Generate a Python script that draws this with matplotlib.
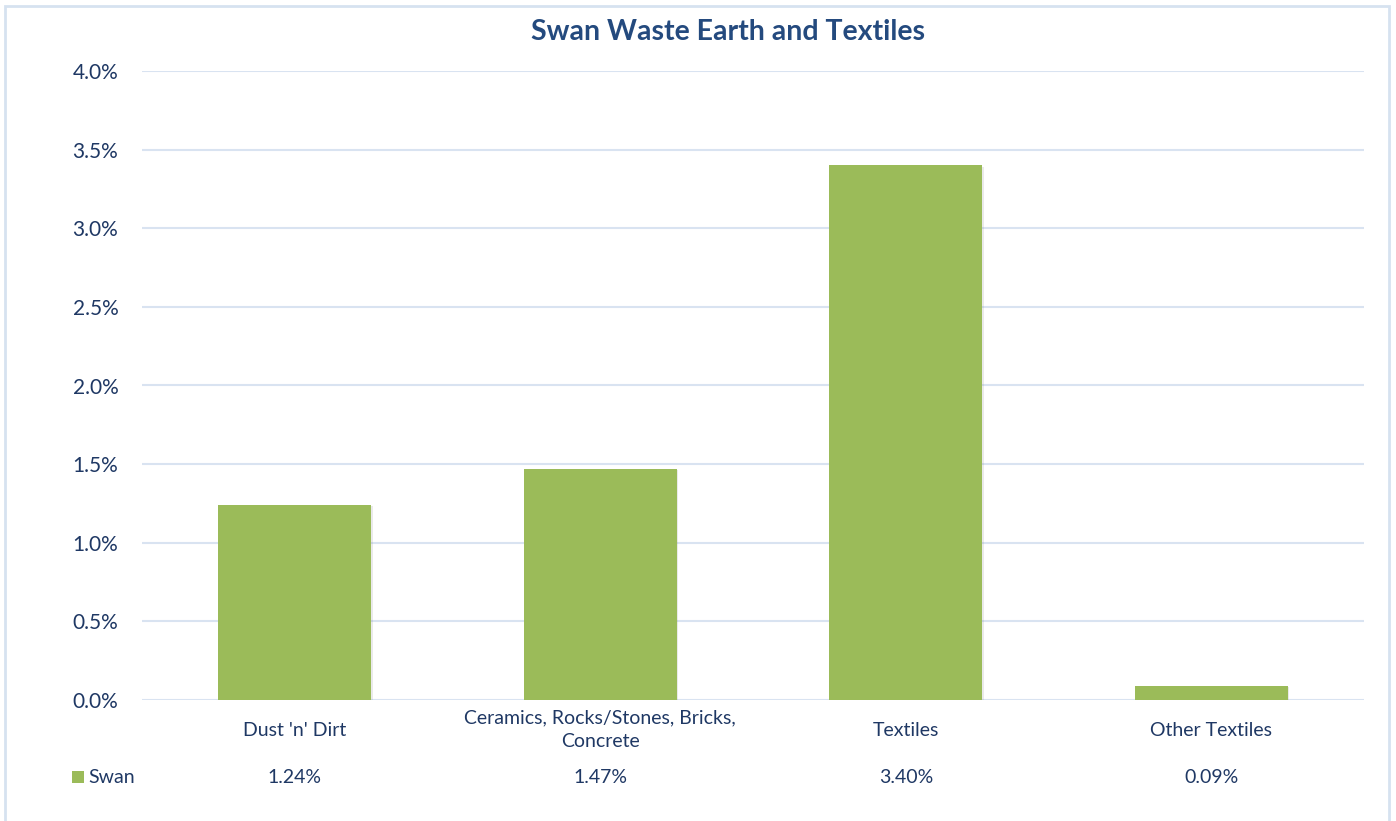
import matplotlib
import matplotlib.pyplot as plt
import matplotlib.transforms as mtransforms
import matplotlib.patheffects as pe
from matplotlib.patches import Rectangle
from matplotlib.ticker import PercentFormatter, MultipleLocator
import numpy as np

matplotlib.rcParams['font.family'] = ['Lato', 'DejaVu Sans']

# data
categories = ["Dust 'n' Dirt", "Ceramics, Rocks/Stones, Bricks,\nConcrete", "Textiles", "Other Textiles"]
swan = [0.0124, 0.0147, 0.0340, 0.0009]
series_name = 'Swan'

green = '#9BBB59'
txt = '#1F3864'
grid = '#D9E3F1'

fig = plt.figure(figsize=(13.96, 8.21), dpi=100)
W, H = 1396, 821
ax = fig.add_axes([142 / W, 1 - 700 / H, (1364 - 142) / W, (700 - 71) / H])

x = np.arange(len(categories))
bars = ax.bar(x, swan, width=0.5, color=green, zorder=3)
for b in bars:
    b.set_path_effects([pe.SimplePatchShadow(offset=(1, -1), alpha=0.15, shadow_rgbFace='#777777'),
                        pe.Normal()])

ax.set_xlim(-0.5, len(categories) - 0.5)
ax.set_ylim(0, 0.04)
ax.yaxis.set_major_locator(MultipleLocator(0.005))
ax.yaxis.set_major_formatter(PercentFormatter(1, decimals=1))
ax.grid(axis='y', color=grid, linewidth=1.5, zorder=0)
ax.set_xticks([])
ax.tick_params(axis='y', length=0, pad=17, labelsize=15, labelcolor=txt)
for s in ax.spines.values():
    s.set_visible(False)

# title
fig.text(728 / W, 1 - 32 / H, 'Swan Waste Earth and Textiles', ha='center', va='center',
         fontsize=20.5, fontweight='bold', color='#244A7E')

# category labels and data table
tr = mtransforms.blended_transform_factory(ax.transData, fig.transFigure)
for i, (c, v) in enumerate(zip(categories, swan)):
    ax.text(i, 1 - 730 / H, c, transform=tr, ha='center', va='center',
            fontsize=14, color=txt, linespacing=1.45)
    ax.text(i, 1 - 777 / H, '{:.2f}%'.format(v * 100), transform=tr, ha='center', va='center',
            fontsize=14, color=txt)

fig.patches.append(Rectangle((72 / W, 1 - 783 / H), 12 / W, 12 / H, transform=fig.transFigure,
                             facecolor=green, edgecolor='none'))
fig.text(88 / W, 1 - 777 / H, series_name, ha='left', va='center', fontsize=14, color=txt)

# chart border
fig.patches.append(Rectangle((5 / W, -0.02), 1384 / W, 1.02 - 6 / H, transform=fig.transFigure,
                             facecolor='none', edgecolor='#D6E2F0', linewidth=2))

fig.savefig('out.png', dpi=100)
